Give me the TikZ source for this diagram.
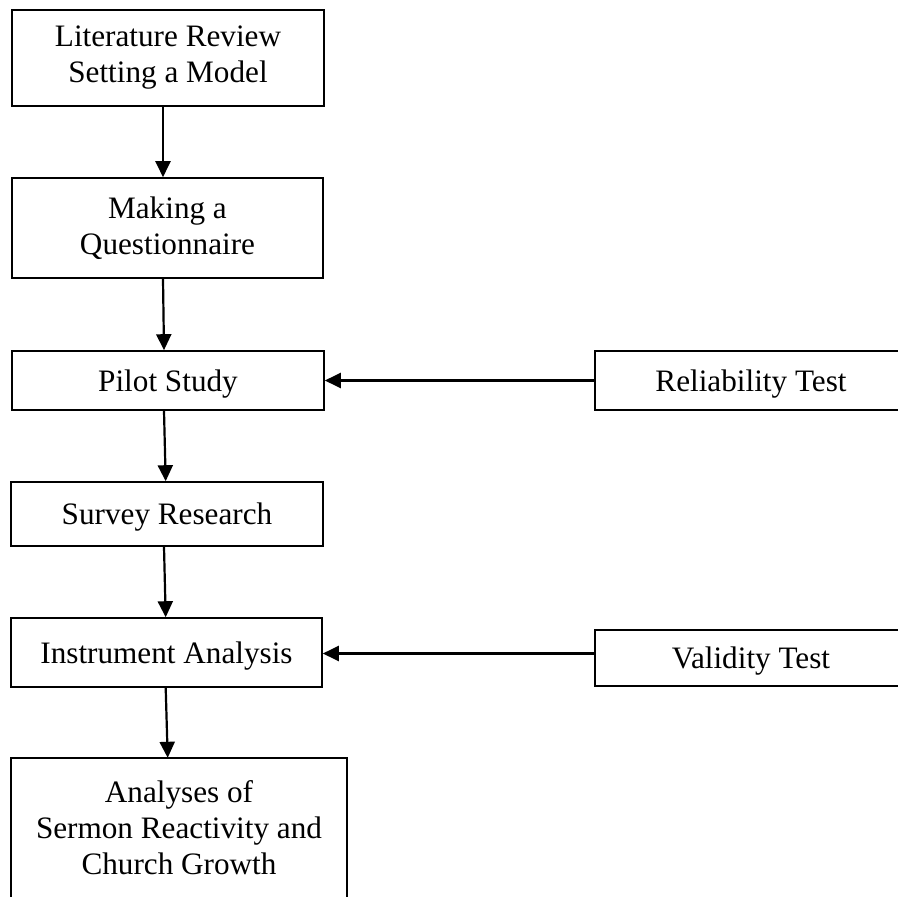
\documentclass[tikz,border=0pt]{standalone}
\usepackage{fontspec}
\setmainfont{Liberation Serif}
\usetikzlibrary{arrows.meta}
\begin{document}
\begin{tikzpicture}[x=1pt,y=-1pt,
  boxnode/.style={draw=black,line width=1.6pt,inner sep=0pt,align=center,
    font=\fontsize{31.2}{36}\selectfont},
  onebox/.style={boxnode,text depth=0pt},
  textnode/.style={inner sep=0pt,align=center,font=\fontsize{31.2}{36}\selectfont},
  conn/.style={line width=2.2pt,-{Triangle[length=16pt,width=15pt]}}]
\useasboundingbox (0,0) rectangle (897,897);
\node[boxnode,minimum width=312pt,minimum height=96pt] (b1) at (168,58) {Literature Review\\Setting a Model};
\node[boxnode,minimum width=311pt,minimum height=100pt] (b2) at (167.5,228) {Making a\\Questionnaire};
\node[onebox,minimum width=312pt,minimum height=59pt] (b3) at (168,380.5) {Pilot Study};
\node[onebox,minimum width=312pt,minimum height=64pt] (b4) at (167,514) {Survey Research};
\node[onebox,minimum width=311pt,minimum height=69pt] (b5) at (166.5,652.5) {Instrument Analysis};
\node[minimum width=336pt,minimum height=160pt,inner sep=0pt] (b6) at (179,838) {};
\draw[line width=1.6pt] (b6.south west) -- (b6.north west) -- (b6.north east) -- (b6.south east);
\node[textnode] (b6t) at (179,828) {Analyses of\\Sermon Reactivity and\\Church Growth};
\node[onebox,minimum width=312pt,minimum height=59pt] (r1) at (751,380.5) {Reliability Test};
\node[onebox,minimum width=312pt,minimum height=56pt] (r2) at (751,658) {Validity Test};
\draw[conn] ([xshift=-5pt]b1.south) -- ([xshift=-4.5pt]b2.north);
\draw[conn] ([xshift=-4.5pt]b2.south) -- ([xshift=-4pt]b3.north);
\draw[conn] ([xshift=-4pt]b3.south) -- ([xshift=-1.3pt]b4.north);
\draw[conn] ([xshift=-3pt]b4.south) -- ([xshift=-0.8pt]b5.north);
\draw[conn] ([xshift=-0.8pt]b5.south) -- ([xshift=-11.3pt]b6.north);
\draw[conn] (r1.west) -- (b3.east);
\draw[conn] ([yshift=-1pt]b5.east -| r2.west) -- ([yshift=-1pt]b5.east);
\end{tikzpicture}
\end{document}
